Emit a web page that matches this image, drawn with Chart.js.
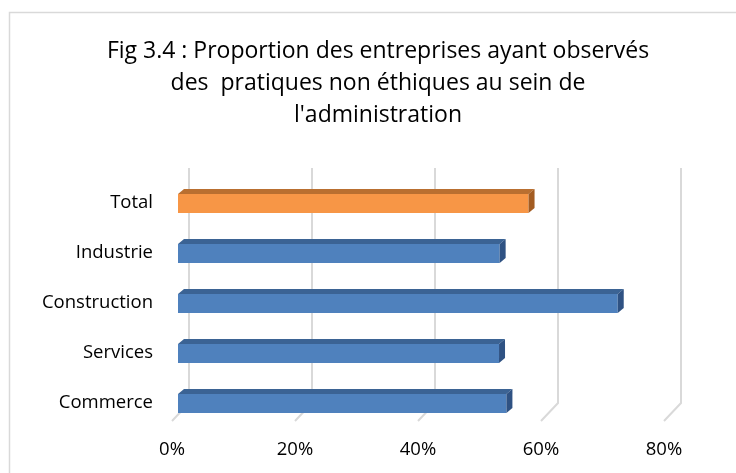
<!DOCTYPE html>
<html>
<head>
<meta charset="utf-8">
<script src="https://cdn.jsdelivr.net/npm/chart.js@4"></script>
<style>
  html, body { margin: 0; padding: 0; background: #fff; overflow: hidden; }
  #wrap { width: 736px; height: 473px; overflow: hidden; }
  canvas { display: block; }
</style>
</head>
<body>
<div id="wrap"><canvas id="myChart" width="756" height="473"></canvas></div>
<script>
const categories = ["Total", "Industrie", "Construction", "Services", "Commerce"];
const values = [57, 52.3, 71.5, 52.2, 53.4];
const xTicks = [0, 20, 40, 60, 80];
const titleLines = [
  "Fig 3.4 : Proportion des entreprises ayant observés",
  "des  pratiques non éthiques au sein de",
  "l'administration",
];

const faceColors = ["#f79646", "#4f81bd", "#4f81bd", "#4f81bd", "#4f81bd"];
const topColors = ["#b96f30", "#3b6394", "#3b6394", "#3b6394", "#3b6394"];
const sideColors = ["#a35c22", "#2f5283", "#2f5283", "#2f5283", "#2f5283"];

const DX = 6, DY = -5; // bar depth
const GRID = "#d9d9d9";
// axis runs past 80% so the plot ends where the last gridline sits
const X_MAX = 80 * 578 / 492;

const frame3d = {
  id: "frame3d",
  beforeDraw(chart) {
    const c = chart.ctx;
    c.save();
    c.strokeStyle = GRID;
    c.lineWidth = 1.5;
    c.strokeRect(9.5, 12.5, 900, 600);
    c.restore();
  },
  beforeDatasetsDraw(chart) {
    const c = chart.ctx;
    const xs = chart.scales.x;
    const area = chart.chartArea;
    const yFront = area.bottom - 7.5;
    const yBack = yFront - 18;
    const yTop = area.top - 10.5;
    c.save();
    c.strokeStyle = GRID;
    c.lineWidth = 2;
    xTicks.forEach((v) => {
      const xf = xs.getPixelForValue(v) - 6;
      const xb = xf + 17;
      c.beginPath();
      c.moveTo(xb, yTop);
      c.lineTo(xb, yBack);
      c.lineTo(xf, yFront);
      c.stroke();
    });
    c.restore();
  },
  afterDatasetsDraw(chart) {
    const c = chart.ctx;
    const meta = chart.getDatasetMeta(0);
    c.save();
    meta.data.forEach((bar, i) => {
      const p = bar.getProps(["x", "y", "base", "height"], true);
      const top = p.y - p.height / 2;
      const bottom = p.y + p.height / 2;
      c.fillStyle = topColors[i];
      c.beginPath();
      c.moveTo(p.base, top);
      c.lineTo(p.x, top);
      c.lineTo(p.x + DX, top + DY);
      c.lineTo(p.base + DX, top + DY);
      c.closePath();
      c.fill();
      c.fillStyle = sideColors[i];
      c.beginPath();
      c.moveTo(p.x, top);
      c.lineTo(p.x + DX, top + DY);
      c.lineTo(p.x + DX, bottom + DY);
      c.lineTo(p.x, bottom);
      c.closePath();
      c.fill();
    });
    c.restore();
  },
};

const ctx = document.getElementById("myChart");
const myChart = new Chart(ctx, {
  type: "bar",
  data: {
    labels: categories,
    datasets: [
      {
        data: values,
        backgroundColor: faceColors,
        borderWidth: 0,
        barPercentage: 0.38,
        categoryPercentage: 1,
      },
    ],
  },
  plugins: [frame3d],
  options: {
    indexAxis: "y",
    responsive: false,
    animation: false,
    devicePixelRatio: 1,
    layout: { padding: 0 },
    plugins: {
      legend: { display: false },
      tooltip: { enabled: false },
      title: {
        display: true,
        text: titleLines,
        color: "#000",
        font: { family: "'Open Sans'", size: 23, weight: "normal", lineHeight: 32 / 23 },
        padding: { top: 35, bottom: 47.5 },
      },
    },
    scales: {
      x: {
        min: 0,
        max: X_MAX,
        afterBuildTicks: (scale) => { scale.ticks = xTicks.map((v) => ({ value: v })); },
        ticks: {
          color: "#000",
          font: { family: "'Open Sans'", size: 18.5 },
          padding: 10,
          labelOffset: -6,
          maxRotation: 0,
          autoSkip: false,
          callback: (v) => v + "%",
        },
        grid: { display: false, drawTicks: false },
        border: { display: false },
        afterFit: (scale) => { scale.height = 44.5; },
      },
      y: {
        ticks: {
          color: "#000",
          font: { family: "'Open Sans'", size: 18.5 },
          padding: 25,
          labelOffset: -1,
        },
        grid: { display: false, drawTicks: false },
        border: { display: false },
        afterFit: (scale) => { scale.width = 178; },
      },
    },
  },
});
</script>
</body>
</html>
